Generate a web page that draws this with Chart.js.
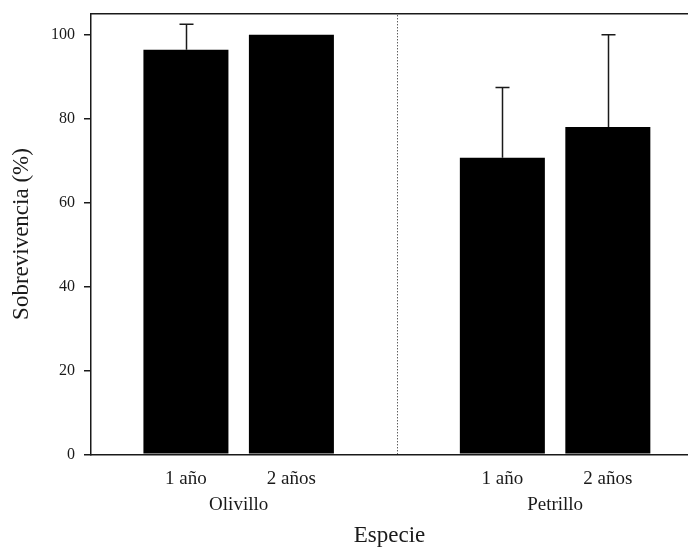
<!DOCTYPE html>
<html>
<head>
<meta charset="utf-8">
<script src="https://cdn.jsdelivr.net/npm/chart.js@4.4.0/dist/chart.umd.min.js"></script>
<style>
  html, body { margin: 0; padding: 0; background: #fff; }
  #wrap { width: 688px; height: 547px; }
</style>
</head>
<body>
<div id="wrap"><canvas id="chart"></canvas></div>
<script>
// datos
const species = ['Olivillo', 'Petrillo'];
const ages = ['1 año', '2 años'];
const survival = [[96.4, 100], [70.7, 78.0]];
const survivalErr = [[6.1, 0], [16.7, 22.0]];
const yTicks = [0, 20, 40, 60, 80, 100];

const serif = "'Liberation Serif', 'Times New Roman', serif";
const ink = '#1a1a1a';

// cada especie ocupa dos posiciones, con un hueco entre grupos
const slot = (g, i) => g * (ages.length + 1) + i + 1;
const groupCenter = g => (slot(g, 0) + slot(g, ages.length - 1)) / 2;
const separator = g => slot(g, ages.length);

const points = [];
const errs = [];
const ageTicks = {};
species.forEach((s, g) => ages.forEach((a, i) => {
  points.push({ x: slot(g, i), y: survival[g][i] });
  errs.push(survivalErr[g][i]);
  ageTicks[slot(g, i)] = a;
}));
const speciesTicks = {};
species.forEach((s, g) => { speciesTicks[groupCenter(g)] = s; });

const extras = {
  id: 'extras',
  afterDatasetsDraw(chart) {
    const { ctx, chartArea, scales } = chart;
    const x = scales.x, y = scales.y;
    ctx.save();
    ctx.strokeStyle = ink;

    // barras de error (solo hacia arriba)
    ctx.lineWidth = 1.5;
    points.forEach((p, k) => {
      if (!errs[k]) return;
      const px = Math.round(x.getPixelForValue(p.x)) + 0.5;
      const y0 = y.getPixelForValue(p.y);
      const y1 = y.getPixelForValue(p.y + errs[k]);
      ctx.beginPath();
      ctx.moveTo(px, y0);
      ctx.lineTo(px, y1);
      ctx.moveTo(px - 7, y1);
      ctx.lineTo(px + 7, y1);
      ctx.stroke();
    });

    // linea punteada entre especies
    ctx.lineWidth = 1;
    ctx.setLineDash([1, 2]);
    for (let g = 0; g < species.length - 1; g++) {
      const sx = Math.round(x.getPixelForValue(separator(g))) + 0.5;
      ctx.beginPath();
      ctx.moveTo(sx, chartArea.bottom);
      ctx.lineTo(sx, chartArea.top);
      ctx.stroke();
    }
    ctx.setLineDash([]);

    // borde superior
    ctx.lineWidth = 1.5;
    ctx.beginPath();
    ctx.moveTo(chartArea.left, chartArea.top);
    ctx.lineTo(chartArea.right, chartArea.top);
    ctx.stroke();
    ctx.restore();
  }
};

const xMin = 0.1, xMax = 5.76;
const noPad = s => { s.paddingTop = 0; s.paddingBottom = 0; s.paddingLeft = 0; s.paddingRight = 0; };

new Chart(document.getElementById('chart'), {
  type: 'bar',
  data: {
    datasets: [{
      data: points,
      backgroundColor: '#000',
      borderWidth: 0,
      categoryPercentage: 1,
      barPercentage: 0.806,
      xAxisID: 'x'
    }]
  },
  options: {
    responsive: true,
    maintainAspectRatio: false,
    animation: false,
    layout: { padding: { top: 13.7, right: 0, left: 0, bottom: 0 } },
    plugins: { legend: { display: false }, tooltip: { enabled: false } },
    scales: {
      x: {
        type: 'linear',
        position: 'bottom',
        weight: 0,
        offset: false,
        min: xMin,
        max: xMax,
        grid: { display: false, drawTicks: false },
        border: { display: true, color: ink, width: 1.5 },
        afterBuildTicks: s => { s.ticks = Object.keys(ageTicks).map(v => ({ value: +v })); },
        afterFit: s => { s.height = 36; noPad(s); },
        ticks: {
          padding: 13,
          maxRotation: 0,
          autoSkip: false,
          color: ink,
          font: { family: serif, size: 19 },
          callback: v => ageTicks[v]
        }
      },
      x2: {
        type: 'linear',
        axis: 'x',
        position: 'bottom',
        weight: 1,
        offset: false,
        min: xMin,
        max: xMax,
        grid: { display: false, drawTicks: false },
        border: { display: false },
        afterBuildTicks: s => { s.ticks = Object.keys(speciesTicks).map(v => ({ value: +v })); },
        afterFit: s => { s.height = 547 - 454.3 - 36; noPad(s); },
        ticks: {
          padding: 3.3,
          maxRotation: 0,
          autoSkip: false,
          color: ink,
          font: { family: serif, size: 19 },
          callback: v => speciesTicks[v]
        },
        title: {
          display: true,
          text: 'Especie',
          color: ink,
          padding: { top: 0, bottom: 0 },
          font: { family: serif, size: 23, lineHeight: 1 }
        }
      },
      y: {
        min: 0,
        max: 105,
        afterBuildTicks: s => { s.ticks = yTicks.map(v => ({ value: v })); },
        afterFit: s => { s.width = 91; noPad(s); },
        grid: { drawOnChartArea: false, drawTicks: true, tickLength: 7, color: ink, lineWidth: 1.5 },
        border: { display: true, color: ink, width: 1.5 },
        ticks: {
          padding: 9,
          color: ink,
          font: { family: serif, size: 16 }
        },
        title: {
          display: true,
          text: 'Sobrevivencia (%)',
          color: ink,
          padding: { top: 8, bottom: 0 },
          font: { family: serif, size: 23 }
        }
      }
    }
  },
  plugins: [extras]
});
</script>
</body>
</html>
